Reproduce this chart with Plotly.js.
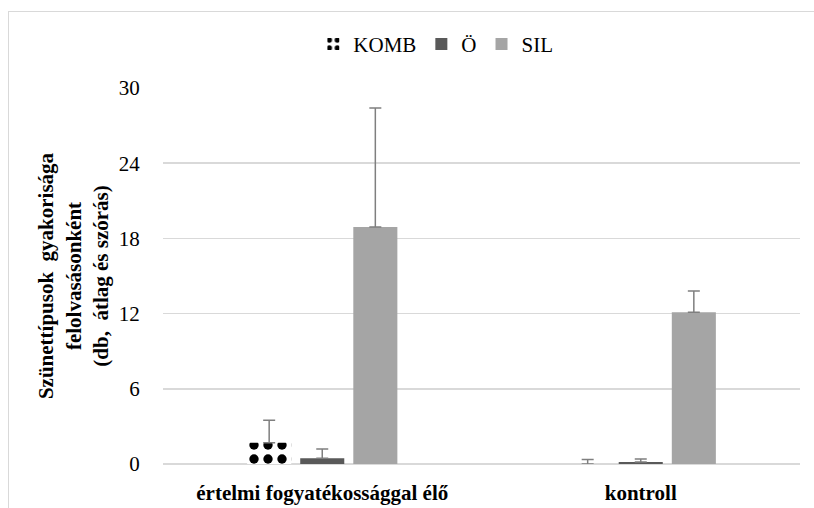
<!DOCTYPE html>
<html>
<head>
<meta charset="utf-8">
<script src="https://cdn.plot.ly/plotly-3.0.1.min.js"></script>
<style>
  html, body { margin: 0; padding: 0; background: #fff; }
  #frame { position: absolute; left: 8px; top: 11px; width: 830px; height: 530px; border: 1px solid #d9d9d9; box-sizing: border-box; }
  #chart { position: absolute; left: 0; top: 0; width: 814px; height: 508px; }
</style>
</head>
<body>
<div id="frame"></div>
<div id="chart"></div>
<script>
const categories = ['értelmi fogyatékossággal élő', 'kontroll'];
const kombMean = [1.7, 0.0];
const kombSd = [1.8, 0.35];
const oMean = [0.45, 0.15];
const oSd = [0.75, 0.25];
const silMean = [18.9, 12.1];
const silSd = [9.5, 1.7];
const yTicks = [0, 6, 12, 18, 24, 30];

const serif = '"Liberation Serif", "Times New Roman", serif';
const errStyle = (arr) => ({ type: 'data', symmetric: false, array: arr, arrayminus: arr.map(() => 0), color: '#7f7f7f', thickness: 1.5, width: 6 });

const traces = [
  { type: 'bar', name: 'KOMB', x: categories, y: kombMean,
    marker: { color: '#ffffff', pattern: { shape: '.', fgcolor: '#000000', bgcolor: '#ffffff', size: 14, solidity: 0.35 } },
    error_y: errStyle(kombSd) },
  { type: 'bar', name: 'Ö', x: categories, y: oMean,
    marker: { color: '#595959' }, error_y: errStyle(oSd) },
  { type: 'bar', name: 'SIL', x: categories, y: silMean,
    marker: { color: '#a5a5a5' }, error_y: errStyle(silSd) }
];

const layout = {
  width: 814, height: 508,
  paper_bgcolor: 'rgba(0,0,0,0)', plot_bgcolor: 'rgba(0,0,0,0)',
  margin: { l: 163, r: 14, t: 88, b: 44 },
  barmode: 'group', bargap: 0.5, bargroupgap: 0.17,
  font: { family: serif, color: '#000' },
  showlegend: true,
  legend: { orientation: 'h', x: 0.236, xanchor: 'left', y: 1.116, yanchor: 'middle',
    font: { family: serif, size: 21, color: '#000' }, itemwidth: 30, traceorder: 'normal' },
  xaxis: { type: 'category', showgrid: false, showline: false, zeroline: false,
    ticks: 'outside', ticklen: 10, tickcolor: 'rgba(0,0,0,0)',
    tickfont: { family: serif, size: 21, color: '#000', weight: 'bold' } },
  yaxis: { range: [0, 30], tickvals: yTicks, ticktext: yTicks.map(String),
    showgrid: true, gridcolor: '#d9d9d9', gridwidth: 1.5,
    zeroline: true, zerolinecolor: '#d9d9d9', zerolinewidth: 1.5, showline: false,
    ticks: 'outside', ticklen: 18, tickcolor: 'rgba(0,0,0,0)',
    tickfont: { family: serif, size: 21, color: '#000' },
    title: { text: 'Szünettípusok  gyakorisága<br>felolvasásonként<br>(db,  átlag és szórás)',
      font: { family: serif, size: 21, color: '#000', weight: 'bold' }, standoff: 4 } }
};

Plotly.newPlot('chart', traces, layout, { displayModeBar: false, staticPlot: true });
</script>
</body>
</html>
